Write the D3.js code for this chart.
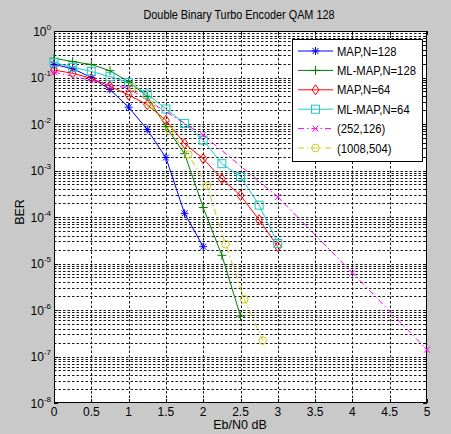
<!DOCTYPE html>
<html><head><meta charset="utf-8">
<script src="https://cdn.jsdelivr.net/npm/d3@7"></script>
<style>
html,body{margin:0;padding:0;background:#c9c9c9;}
svg{display:block;font-family:"Liberation Sans",Arial,sans-serif;}
</style></head>
<body>
<svg id="chart" width="451" height="434"></svg>
<script>
// ---- data ----
const title = "Double Binary Turbo Encoder QAM 128";
const xLabel = "Eb/N0 dB";
const yLabel = "BER";
const xTicks = [0,0.5,1,1.5,2,2.5,3,3.5,4,4.5,5];
const xTickLabels = ["0","0.5","1","1.5","2","2.5","3","3.5","4","4.5","5"];
const yExponents = [0,-1,-2,-3,-4,-5,-6,-7,-8];

const seriesNames = ["MAP,N=128","ML-MAP,N=128","MAP,N=64","ML-MAP,N=64","(252,126)","(1008,504)"];

const mapN128X = [0,0.25,0.5,0.75,1,1.25,1.5,1.75,2];
const mapN128Y = [0.19,0.155,0.1,0.055,0.023,0.0076,0.0019,1.2e-4,2.3e-5];

const mlmapN128X = [0,0.25,0.5,0.75,1,1.25,1.5,1.75,2,2.25,2.5];
const mlmapN128Y = [0.26,0.22,0.19,0.14,0.081,0.039,0.0088,0.0023,1.6e-4,1.5e-5,7.4e-7];

const mapN64X = [0,0.25,0.5,0.75,1,1.25,1.5,1.75,2,2.25,2.5,2.75,3];
const mapN64Y = [0.145,0.123,0.096,0.065,0.042,0.026,0.012,0.0038,0.0018,6.6e-4,2.9e-4,8.7e-5,2.3e-5];

const mlmapN64X = [0,0.25,0.5,0.75,1,1.25,1.5,1.75,2,2.25,2.5,2.75,3];
const mlmapN64Y = [0.21,0.166,0.135,0.104,0.078,0.044,0.021,0.0103,0.0045,0.0014,7.4e-4,1.8e-4,2.7e-5];

const code252X = [0,1,2,3,4,5];
const code252Y = [0.13,0.058,0.0058,2.7e-4,6.3e-6,1.4e-7];

const code1008X = [1.05,1.3,1.55,1.8,2.05,2.3,2.55,2.8];
const code1008Y = [0.062,0.026,0.0072,0.0022,4.7e-4,2.6e-5,1.7e-6,2.2e-7];

const series = [
  {name: seriesNames[0], xs: mapN128X, ys: mapN128Y, color: "#0000ff", marker: "star", dash: null},
  {name: seriesNames[1], xs: mlmapN128X, ys: mlmapN128Y, color: "#008000", marker: "plus", dash: null},
  {name: seriesNames[2], xs: mapN64X, ys: mapN64Y, color: "#ff0000", marker: "diamond", dash: null},
  {name: seriesNames[3], xs: mlmapN64X, ys: mlmapN64Y, color: "#1ec8c8", marker: "square", dash: null},
  {name: seriesNames[4], xs: code252X, ys: code252Y, color: "#ff00ff", marker: "x", dash: "6,3,1.5,3"},
  {name: seriesNames[5], xs: code1008X, ys: code1008Y, color: "#c8c814", marker: "circle", dash: "6,3,1.5,3"}
];

// ---- layout ----
const svg = d3.select("#chart");
const L = 54, R = 427, T = 31, B = 403;
const x = d3.scaleLinear().domain([0,5]).range([L,R]);
const y = d3.scaleLog().domain([1e-8,1]).range([B,T]);

svg.append("rect").attr("x",0).attr("y",0).attr("width",451).attr("height",434).attr("fill","#c9c9c9");
svg.append("rect").attr("x",L).attr("y",T).attr("width",R-L).attr("height",B-T).attr("fill","#fff");

// grid
const grid = svg.append("g").attr("stroke","#000").attr("stroke-width",1).attr("stroke-dasharray","2.5,2").attr("opacity",0.9);
xTicks.forEach(v=>{ if(v>0 && v<5) grid.append("line").attr("x1",Math.round(x(v))+0.5).attr("x2",Math.round(x(v))+0.5).attr("y1",T).attr("y2",B); });
const minorVals = [];
yExponents.forEach(e=>{ if(e<0){ for(let k=1;k<=9;k++){ minorVals.push(k*Math.pow(10,e)); } } });
minorVals.forEach(v=>{ const yy=Math.round(y(v))+0.5; if(yy>T+1 && yy<B-1) grid.append("line").attr("x1",L).attr("x2",R).attr("y1",yy).attr("y2",yy); });

// ticks (inward)
const tk = svg.append("g").attr("stroke","#000").attr("stroke-width",1);
xTicks.forEach(v=>{
  const xx=Math.round(x(v))+0.5;
  tk.append("line").attr("x1",xx).attr("x2",xx).attr("y1",B).attr("y2",B-4);
  tk.append("line").attr("x1",xx).attr("x2",xx).attr("y1",T).attr("y2",T+4);
});
minorVals.forEach(v=>{
  const yy=Math.round(y(v))+0.5;
  const len = (Math.abs(Math.log10(v)-Math.round(Math.log10(v)))<1e-9)?4:2;
  tk.append("line").attr("x1",L).attr("x2",L+len).attr("y1",yy).attr("y2",yy);
  tk.append("line").attr("x1",R).attr("x2",R-len).attr("y1",yy).attr("y2",yy);
});

// axes box
svg.append("rect").attr("x",L+0.5).attr("y",T+0.5).attr("width",R-L-1).attr("height",B-T-1).attr("fill","none").attr("stroke","#000").attr("stroke-width",1);

// x tick labels
xTicks.forEach((v,i)=>{
  svg.append("text").attr("x",x(v)).attr("y",B+13).attr("text-anchor","middle").attr("font-size",12).attr("fill","#000").text(xTickLabels[i]);
});
// y tick labels
yExponents.forEach(e=>{
  const t = svg.append("text").attr("x",51).attr("y",y(Math.pow(10,e))+4.5).attr("text-anchor","end").attr("font-size",12).attr("fill","#000");
  t.append("tspan").text("10");
  t.append("tspan").attr("dy",-6).attr("font-size",8).text(String(e));
});

// labels
svg.append("text").attr("x",239).attr("y",19).attr("text-anchor","middle").attr("font-size",12.5).attr("textLength",191).attr("lengthAdjust","spacingAndGlyphs").text(title);
svg.append("text").attr("x",240).attr("y",429).attr("text-anchor","middle").attr("font-size",12.5).text(xLabel);
svg.append("text").attr("transform","translate(24,212) rotate(-90)").attr("text-anchor","middle").attr("font-size",12.5).text(yLabel);

// markers
function drawMarker(g, type, cx, cy, color){
  const s = g.append("g").attr("transform",`translate(${cx},${cy})`).attr("stroke",color).attr("fill","none").attr("stroke-width",1);
  if(type==="star"){
    s.append("path").attr("d","M-4,0H4M0,-4V4M-3,-3L3,3M-3,3L3,-3");
  } else if(type==="plus"){
    s.append("path").attr("d","M-4.5,0H4.5M0,-4.5V4.5");
  } else if(type==="diamond"){
    s.append("path").attr("d","M0,-5L3.5,0L0,5L-3.5,0Z");
  } else if(type==="square"){
    s.append("rect").attr("x",-4).attr("y",-4).attr("width",8).attr("height",8);
  } else if(type==="x"){
    s.append("path").attr("d","M-3,-3L3,3M-3,3L3,-3");
  } else if(type==="circle"){
    s.append("circle").attr("r",3.8);
  }
}

const plot = svg.append("g");
const line = d3.line().x(d=>x(d[0])).y(d=>y(d[1]));
series.forEach(sr=>{
  const pts = sr.xs.map((v,i)=>[v,sr.ys[i]]);
  plot.append("path").datum(pts).attr("d",line).attr("fill","none").attr("stroke",sr.color).attr("stroke-width",1)
    .attr("stroke-dasharray",sr.dash);
  pts.forEach(p=>drawMarker(plot, sr.marker, x(p[0]), y(p[1]), sr.color));
});

// legend
const lg = svg.append("g");
lg.append("rect").attr("x",292.5).attr("y",39.5).attr("width",130).attr("height",122).attr("fill","#fff").attr("stroke","#000").attr("stroke-width",1);
series.forEach((sr,i)=>{
  const yy = 51 + i*19.4;
  lg.append("line").attr("x1",298).attr("x2",333).attr("y1",yy).attr("y2",yy).attr("stroke",sr.color).attr("stroke-width",1).attr("stroke-dasharray",sr.dash);
  drawMarker(lg, sr.marker, 315.5, yy, sr.color);
  const t = lg.append("text").attr("x",337).attr("y",yy+4.5).attr("font-size",12.5).attr("fill","#000").text(sr.name);
  const w = t.node().getComputedTextLength();
  t.attr("textLength", w*0.9).attr("lengthAdjust","spacingAndGlyphs");
});
</script>
</body></html>
